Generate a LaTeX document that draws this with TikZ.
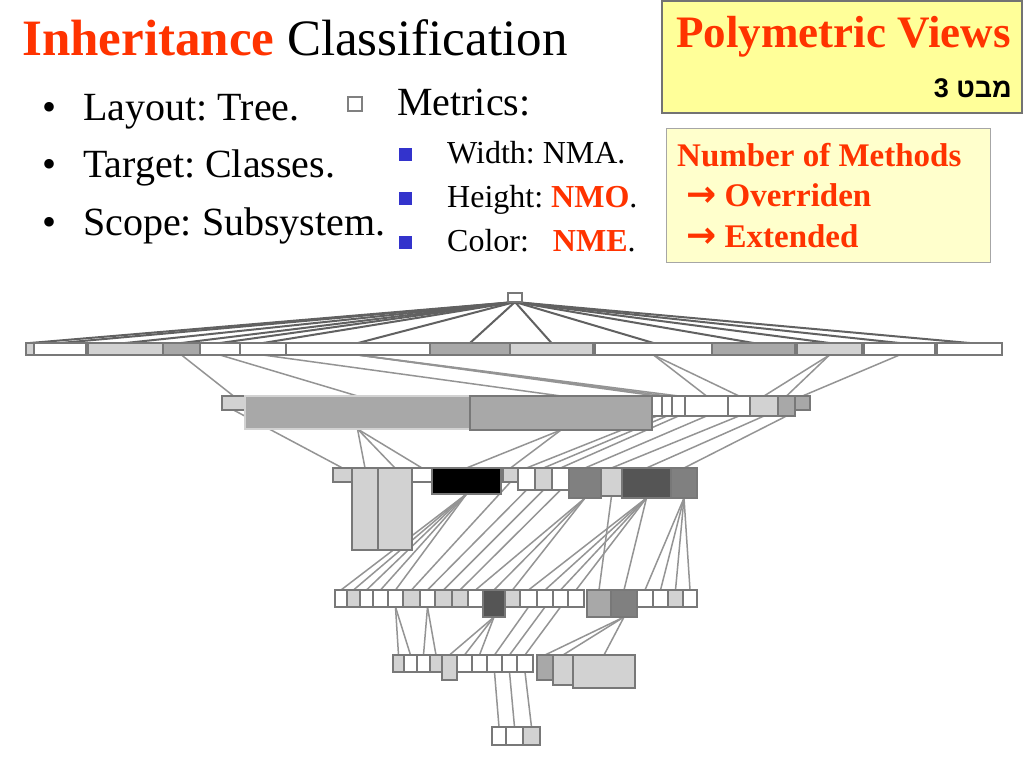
\documentclass[tikz,border=0pt]{standalone}
\usepackage{fontspec}
\setmainfont{Liberation Serif}
\newfontfamily\hebfont[Script=Hebrew]{Liberation Sans}
\newfontfamily\arrowfnt{DejaVu Sans}
\TeXXeTstate=1
\frenchspacing
\definecolor{hred}{RGB}{255,51,0}
\definecolor{hblue}{RGB}{51,51,204}
\definecolor{ybox}{RGB}{255,255,153}
\definecolor{ybox2}{RGB}{255,255,204}
\definecolor{lgc}{RGB}{210,210,210}
\definecolor{mgc}{RGB}{168,168,168}
\definecolor{g2c}{RGB}{128,128,128}
\definecolor{dgc}{RGB}{85,85,85}
\definecolor{bord}{RGB}{120,120,120}
\pgfdeclarelayer{bg}
\pgfsetlayers{bg,main}
\newcommand\mybox[6]{\node[cb,fill=#2,minimum width=#5,minimum height=#6] (#1) at (#3,#4) {};}
\begin{document}
\begin{tikzpicture}[x=1pt,y=-1pt,
  cb/.style={draw=bord,line width=1.6,anchor=north west,inner sep=0,outer sep=0},
  edge/.style={draw=black!42,line width=1.5},
  fanedge/.style={draw=black!62,line width=2},
  txt/.style={anchor=base west,inner sep=0}]
\useasboundingbox (0,0) rectangle (1024,768);

% ---------- texts ----------
\node[txt,font=\fontsize{51}{56}\selectfont] (title) at (22,56) {\textcolor{hred}{\bfseries Inheritance} Classification};
\node[txt,font=\fontsize{40}{44}\selectfont] (bul1) at (42,120) {•};
\node[txt,font=\fontsize{40}{44}\selectfont] (bul2) at (42,177) {•};
\node[txt,font=\fontsize{40}{44}\selectfont] (bul3) at (42,235) {•};
\node[txt,font=\fontsize{40}{44}\selectfont] (t1) at (83,120) {Layout: Tree.};
\node[txt,font=\fontsize{40}{44}\selectfont] (t2) at (83,177) {Target: Classes.};
\node[txt,font=\fontsize{40}{44}\selectfont] (t3) at (83,235) {Scope: Subsystem.};
\node[draw=gray,line width=1.8,minimum size=14,inner sep=0] (msq) at (355,104) {};
\node[txt,font=\fontsize{40}{44}\selectfont] (met) at (397,115) {Metrics:};
\node[fill=hblue,minimum size=13,inner sep=0] (sq1) at (405,154) {};
\node[fill=hblue,minimum size=13,inner sep=0] (sq2) at (405,198) {};
\node[fill=hblue,minimum size=13,inner sep=0] (sq3) at (405,242) {};
\node[txt,font=\fontsize{32}{36}\selectfont] (m1) at (447,163) {Width: NMA.};
\node[txt,font=\fontsize{32}{36}\selectfont] (m2) at (447,207) {Height: \textcolor{hred}{\bfseries NMO}.};
\node[txt,font=\fontsize{32}{36}\selectfont] (m3) at (447,251) {Color:\ \ \ \textcolor{hred}{\bfseries NME}.};

% top right box
\draw[fill=ybox,draw=black!55,line width=1.2] (662,1) rectangle (1022,113);
\node[txt,font=\fontsize{45}{50}\selectfont\bfseries,text=hred] (pv) at (676,48) {Polymetric Views};
\node[anchor=base east,inner sep=0,font=\hebfont\bfseries\fontsize{27}{30}\selectfont] (heb) at (1012,97) {\beginR מבט 3\endR};

% second box
\draw[fill=ybox2,draw=black!35,line width=1] (666,128) rectangle (990,262);
\node[txt,font=\fontsize{33}{36}\selectfont\bfseries,text=hred] (n1) at (677,166) {Number of Methods};
\node[txt,font=\fontsize{33}{36}\selectfont\bfseries,text=hred] (n2) at (686,206) {{\arrowfnt\fontsize{36}{36}\selectfont →} Overriden};
\node[txt,font=\fontsize{33}{36}\selectfont\bfseries,text=hred] (n3) at (686,247) {{\arrowfnt\fontsize{36}{36}\selectfont →} Extended};

% ---------- tree boxes ----------
\mybox{r}{white}{508}{293}{14}{9}
% level 1
\mybox{a1}{lgc}{26}{343}{8}{12}
\mybox{a2}{white}{34}{343}{52}{12}
\mybox{a3}{lgc}{88}{343}{75}{12}
\mybox{a4}{mgc}{163}{343}{37}{12}
\mybox{a5}{white}{200}{343}{40}{12}
\mybox{a6}{white}{240}{343}{46}{12}
\mybox{a7}{white}{286}{343}{144}{12}
\mybox{a8}{mgc}{430}{343}{80}{12}
\mybox{a9}{lgc}{510}{343}{83}{12}
\mybox{a10}{white}{595}{343}{117}{12}
\mybox{a11}{mgc}{712}{343}{83}{12}
\mybox{a12}{lgc}{797}{343}{65}{12}
\mybox{a13}{white}{864}{343}{71}{12}
\mybox{a14}{white}{937}{343}{65}{12}
% level 2
\mybox{b1}{lgc}{222}{396}{23}{14}
\node[cb,draw=lgc,fill=mgc,minimum width=225,minimum height=33] (b2) at (245,396) {};
\mybox{b3}{mgc}{470}{396}{182}{34}
\mybox{b4}{white}{652}{396}{10}{20}
\mybox{b5}{white}{662}{396}{10}{20}
\mybox{b6}{white}{672}{396}{13}{20}
\mybox{b7}{white}{685}{396}{43}{20}
\mybox{b8}{white}{728}{396}{22}{20}
\mybox{b9}{lgc}{750}{396}{28}{20}
\mybox{b10}{mgc}{778}{396}{17}{20}
\mybox{b11}{mgc}{795}{396}{15}{14}
% level 3
\mybox{c1}{lgc}{333}{468}{19}{14}
\mybox{c2}{lgc}{352}{468}{26}{82}
\mybox{c3}{lgc}{378}{468}{34}{82}
\mybox{c4}{white}{412}{468}{20}{14}
\mybox{c5}{black}{432}{468}{69}{26}
\mybox{c6}{lgc}{503}{468}{15}{14}
\mybox{c7}{white}{518}{468}{17}{22}
\mybox{c8}{lgc}{535}{468}{17}{22}
\mybox{c9}{white}{552}{468}{17}{22}
\mybox{c10}{g2c}{569}{468}{32}{30}
\mybox{c11}{lgc}{601}{468}{21}{28}
\mybox{c12}{dgc}{622}{468}{49}{30}
\mybox{c13}{g2c}{671}{468}{26}{30}
% level 4
\mybox{d1}{white}{335}{590}{12}{17}
\mybox{d2}{lgc}{347}{590}{13}{17}
\mybox{d3}{white}{360}{590}{13}{17}
\mybox{d4}{white}{373}{590}{15}{17}
\mybox{d5}{white}{388}{590}{15}{17}
\mybox{d6}{lgc}{403}{590}{17}{17}
\mybox{d7}{white}{420}{590}{15}{17}
\mybox{d8}{lgc}{435}{590}{17}{17}
\mybox{d9}{lgc}{452}{590}{16}{17}
\mybox{d10}{white}{468}{590}{15}{17}
\mybox{d11}{dgc}{483}{590}{22}{27}
\mybox{d12}{lgc}{505}{590}{15}{17}
\mybox{d13}{white}{520}{590}{17}{17}
\mybox{d14}{white}{537}{590}{16}{17}
\mybox{d15}{white}{553}{590}{15}{17}
\mybox{d16}{white}{568}{590}{16}{17}
\mybox{d17}{mgc}{587}{590}{24}{27}
\mybox{d18}{g2c}{611}{590}{26}{27}
\mybox{d19}{white}{637}{590}{16}{17}
\mybox{d20}{white}{653}{590}{15}{17}
\mybox{d21}{lgc}{668}{590}{15}{17}
\mybox{d22}{white}{683}{590}{14}{17}
% level 5
\mybox{e1}{lgc}{393}{655}{11}{17}
\mybox{e2}{white}{404}{655}{13}{17}
\mybox{e3}{white}{417}{655}{13}{17}
\mybox{e4}{lgc}{430}{655}{12}{17}
\mybox{e5}{lgc}{442}{655}{15}{25}
\mybox{e6}{white}{457}{655}{15}{17}
\mybox{e7}{white}{472}{655}{15}{17}
\mybox{e8}{white}{487}{655}{15}{17}
\mybox{e9}{white}{502}{655}{15}{17}
\mybox{e10}{white}{517}{655}{16}{17}
\mybox{e11}{mgc}{537}{655}{16}{25}
\mybox{e12}{lgc}{553}{655}{20}{30}
\mybox{e13}{lgc}{573}{655}{62}{33}
% level 6
\mybox{f1}{white}{492}{727}{14}{18}
\mybox{f2}{white}{506}{727}{17}{18}
\mybox{f3}{lgc}{523}{727}{17}{18}

% ---------- edges ----------
\begin{pgfonlayer}{bg}
\fill[white] (0,0) rectangle (1024,768);
\foreach \c in {a1,a2,a3,a4,a5,a6,a7,a8,a9,a10,a11,a12,a13,a14}
  {\draw[fanedge] (r.south) -- (\c.north);}
\foreach \c/\p in {b1/a4,b2/a5,b3/a6,b4/a7,b5/a7,b6/a7,b7/a10,b8/a10,b9/a12,b10/a12,b11/a13,
  c1/b1,c2/b2,c3/b2,c4/b2,c5/b3,c6/b3,c7/b4,c8/b5,c9/b6,c10/b7,c11/b8,c12/b9,c13/b10,
  d1/c5,d2/c5,d3/c5,d4/c5,d5/c5,d6/c6,d7/c7,d8/c8,d9/c9,d10/c10,d11/c10,d12/c10,
  d13/c12,d14/c12,d15/c12,d16/c12,d17/c11,d18/c12,d19/c13,d20/c13,d21/c13,d22/c13,
  e1/d5,e2/d5,e3/d7,e4/d7,e5/d11,e6/d11,e7/d11,e8/d13,e9/d14,e10/d15,e11/d18,e12/d18,e13/d18,
  f1/e8,f2/e9,f3/e10}
  {\draw[edge] (\p.south) -- (\c.north);}
\end{pgfonlayer}
\end{tikzpicture}
\end{document}
